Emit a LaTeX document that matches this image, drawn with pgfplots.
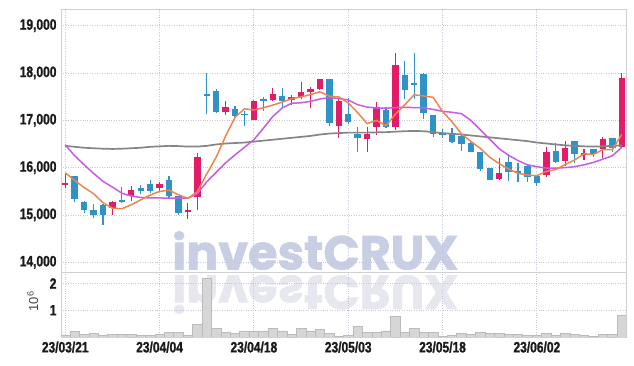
\documentclass[border=0pt]{standalone}
\usepackage{fontspec}
\usepackage{pgfplots}
\pgfplotsset{compat=1.18}
\usepackage{pgfplotstable}
\setmainfont{Liberation Sans}
\newfontfamily\tickfont{Liberation Sans}[FakeStretch=0.8, BoldFeatures={FakeBold=1.2}]
\newfontfamily\wmfont{Poppins}[BoldFeatures={FakeBold=1.5}]
\definecolor{upred}{HTML}{E31C6A}
\definecolor{dnblue}{HTML}{2F93C7}
\definecolor{maA}{HTML}{F0844E}
\definecolor{maB}{HTML}{C95BE6}
\definecolor{maC}{HTML}{858585}
\definecolor{gridc}{HTML}{C5C8DC}
\definecolor{framec}{HTML}{D0D0D0}
\definecolor{volc}{HTML}{D6D6D6}
\definecolor{voledge}{HTML}{BBBBBB}
\definecolor{wm}{HTML}{C8CFE5}
\definecolor{wmr}{HTML}{E6E7EF}
\definecolor{tickc}{HTML}{1A1A1A}

\pgfplotstableread{
x O H L C
0 15630 15890 15570 15680
5 15140 15290 15000 15270
7 15400 15610 15300 15520
10 15560 15700 15490 15660
13 15070 15250 14910 15110
14 15370 16300 15110 16230
17 17180 17410 17110 17280
20 17010 17430 17000 17410
22 17420 17680 17410 17560
24 17420 17540 17320 17490
25 17490 17800 17440 17590
26 17590 17710 17250 17660
27 17660 17870 17650 17870
29 16890 17440 16620 17410
32 16600 16850 16340 16710
33 16850 17390 16690 17280
35 16850 18420 16800 18170
46 15760 16210 15740 15880
51 15850 16440 15810 16330
53 16130 16560 16040 16420
55 16270 16390 16160 16310
57 16390 16640 16200 16610
59 16430 17990 16420 17890
}\updata

\pgfplotstableread{
x O H L C
1 15820 15830 15270 15340
2 15280 15290 15050 15100
3 15100 15230 14930 15000
4 15210 15230 14790 15000
6 15310 15590 15250 15280
8 15560 15630 15440 15510
9 15660 15740 15460 15510
11 15740 15820 15330 15410
12 15400 15410 15000 15050
15 17550 18010 17130 17520
16 17620 17660 17150 17180
18 17240 17300 17080 17100
19 17140 17200 16880 17110
21 17440 17490 17200 17410
23 17510 17680 17290 17410
28 17870 17870 16890 16940
30 17130 17480 16920 16960
31 16710 16850 16340 16630
34 17220 17290 16830 16850
36 17960 18250 17440 17640
37 17780 18420 17440 17750
38 17980 17990 17020 17150
39 17110 17120 16650 16710
40 16740 16810 16630 16680
41 16730 16830 16510 16550
42 16670 16730 16360 16490
43 16510 16540 16320 16340
44 16330 16340 15930 15980
45 15990 16000 15730 15740
47 16120 16290 15720 15910
48 15930 16090 15690 15890
49 16040 16060 15700 15800
50 15820 15830 15610 15670
52 16360 16510 16100 16110
54 16560 16570 16090 16280
56 16390 16390 16230 16280
58 16620 16630 16340 16410
}\dndata

\pgfplotstableread{
x ma5 ma20 ma60
0 15890 16480 16460
1 15730 16250 16440
2 15580 16060 16420
3 15450 15880 16410
4 15260 15710 16400
5 15142 15590 16395
6 15132 15460 16400
7 15216 15400 16410
8 15318 15370 16420
9 15420 15360 16440
10 15498 15360 16450
11 15522 15355 16460
12 15428 15355 16455
13 15348 15355 16445
14 15492 15450 16445
15 15866 15700 16460
16 16220 15900 16490
17 16666 16100 16510
18 17064 16270 16520
19 17242 16430 16530
20 17218 16590 16550
21 17266 16830 16570
22 17322 17080 16590
23 17384 17260 16610
24 17458 17360 16630
25 17494 17370 16650
26 17542 17400 16670
27 17604 17450 16700
28 17510 17480 16720
29 17494 17460 16730
30 17368 17430 16740
31 17162 17330 16740
32 16930 17280 16740
33 16998 17260 16745
34 16886 17255 16750
35 17128 17270 16760
36 17330 17275 16770
37 17540 17268 16775
38 17514 17265 16770
39 17486 17230 16750
40 17188 17190 16730
41 16970 17170 16715
42 16716 17140 16700
43 16554 17000 16680
44 16408 16800 16660
45 16220 16600 16640
46 16086 16400 16620
47 15970 16260 16600
48 15880 16150 16580
49 15844 16060 16560
50 15830 16020 16530
51 15920 15990 16510
52 15960 15990 16490
53 16066 16000 16470
54 16162 16020 16460
55 16290 16060 16450
56 16280 16110 16445
57 16380 16180 16450
58 16378 16250 16460
59 16700 16430 16470
}\madata

\pgfplotstableread{
x v
0 0.06
1 0.21
2 0.10
3 0.14
4 0.08
5 0.10
6 0.10
7 0.10
8 0.06
9 0.06
10 0.11
11 0.16
12 0.16
13 0.06
14 0.48
15 2.19
16 0.31
17 0.16
18 0.13
19 0.23
20 0.23
21 0.23
22 0.31
23 0.23
24 0.10
25 0.31
26 0.23
27 0.28
28 0.13
29 0.03
30 0.06
31 0.40
32 0.16
33 0.16
34 0.23
35 0.78
36 0.16
37 0.31
38 0.16
39 0.16
40 0.03
41 0.06
42 0.13
43 0.10
44 0.16
45 0.13
46 0.13
47 0.09
48 0.09
49 0.06
50 0.06
51 0.13
52 0.06
53 0.13
54 0.10
55 0.06
56 0.03
57 0.09
58 0.09
59 0.80
}\voldata

\pgfplotsset{
  common/.style={
    anchor=south west, width=565pt, scale only axis,
    xmin=-0.45, xmax=59.45,
    xtick={0,10,20,30,40,50},
    grid=major,
    major grid style={draw=gridc, dotted, line width=0.8pt},
    axis line style={draw=framec, line width=0.8pt},
    tick style={draw=none},
    ticklabel style={font=\tickfont\bfseries\fontsize{15}{15}\selectfont, text=tickc},
    scaled y ticks=false,
    /pgf/number format/1000 sep={,},
    /pgf/number format/assume math mode=true,
  }
}

\begin{document}
\begin{tikzpicture}
\path[use as bounding box] (0pt,0pt) rectangle (634pt,366pt);
% watermark and reflection
\node[anchor=south west, inner sep=0pt, text=wm] at (172pt,96pt)
  {\resizebox{286pt}{!}{\wmfont\bfseries investCRUX}};
\node[anchor=south west, inner sep=0pt, text=wmr, yscale=-1, transform shape] at (172pt,91pt)
  {\resizebox{286pt}{!}{\wmfont\bfseries investCRUX}};

\begin{axis}[common, at={(61pt,94pt)}, height=263pt,
  ymin=13795, ymax=19352,
  ytick={14000,15000,16000,17000,18000,19000},
  xticklabels={,,,,,},
  yticklabel style={xshift=-1pt},
]
% wicks
\addplot[draw=none, mark=none, forget plot,
  error bars/.cd, y dir=minus, y explicit, error mark=none,
  error bar style={draw=upred, line width=1.1pt}]
  table[x=x, y=H, y error expr=\thisrow{H}-\thisrow{L}] {\updata};
\addplot[draw=none, mark=none, forget plot,
  error bars/.cd, y dir=minus, y explicit, error mark=none,
  error bar style={draw=dnblue, line width=1.1pt}]
  table[x=x, y=H, y error expr=\thisrow{H}-\thisrow{L}] {\dndata};
% bodies
\addplot[draw=none, mark=none, forget plot,
  error bars/.cd, y dir=minus, y explicit, error mark=none,
  error bar style={draw=upred, line width=6.4pt}]
  table[x=x, y=C, y error expr=\thisrow{C}-\thisrow{O}] {\updata};
\addplot[draw=none, mark=none, forget plot,
  error bars/.cd, y dir=minus, y explicit, error mark=none,
  error bar style={draw=dnblue, line width=6.4pt}]
  table[x=x, y=O, y error expr=\thisrow{O}-\thisrow{C}] {\dndata};
% moving averages
\addplot[maC, line width=1.7pt, mark=none, line join=round] table[x=x, y=ma60] {\madata};
\addplot[maB, line width=1.5pt, mark=none, line join=round] table[x=x, y=ma20] {\madata};
\addplot[maA, line width=1.5pt, mark=none, line join=round] table[x=x, y=ma5] {\madata};
\end{axis}

\begin{axis}[common, at={(61pt,29pt)}, height=65pt,
  ymin=0, ymax=2.43,
  ytick={1,2},
  yticklabel style={xshift=-1pt},
  xticklabels={23/03/21,23/04/04,23/04/18,23/05/03,23/05/18,23/06/02},
  xticklabel style={yshift=-1pt},
  ylabel={\fontsize{13}{13}\selectfont 10\textsuperscript{6}},
  ylabel style={at={(axis description cs:-0.05,0.55)}, anchor=center, text=black!72},
]
\addplot[ybar, bar width=1, bar shift=0pt, fill=volc, draw=voledge, line width=0.5pt]
  table[x=x, y=v] {\voldata};
\end{axis}
\end{tikzpicture}
\end{document}
